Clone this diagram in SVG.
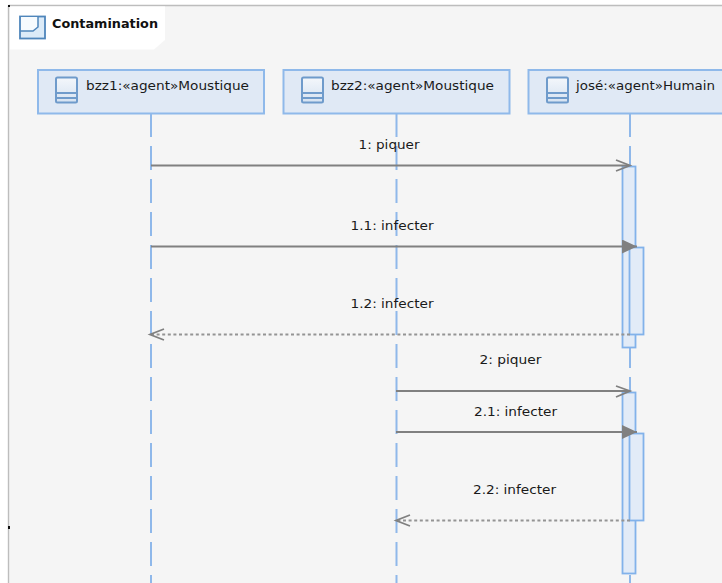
<svg xmlns="http://www.w3.org/2000/svg" width="722" height="583" viewBox="0 0 722 583">
<style>
.head{fill:#e0e9f5;stroke:#8fb9ea;stroke-width:2}
.bar{fill:#e2ebf7;stroke:#82b2ea;stroke-width:1.8}
.life{stroke:#8fb8ea;stroke-width:2;fill:none;stroke-dasharray:24 9}
.msg{stroke:#808080;stroke-width:2;fill:none}
.ret{stroke:#949494;stroke-width:2;fill:none;stroke-dasharray:3 2.6}
.open{stroke:#808080;stroke-width:1.8;fill:none}
.t{font-family:"DejaVu Sans",sans-serif;font-size:12px;fill:#1a1a1a}
</style>
<defs>
<linearGradient id="g" x1="0" y1="0" x2="0" y2="1"><stop offset="0" stop-color="#f4f7fb"/><stop offset="1" stop-color="#d5e2f1"/></linearGradient>
<g id="ic"><rect x="0" y="0" width="21" height="25" rx="1.5" fill="url(#g)" stroke="#6f9bcb" stroke-width="2"/><path d="M0 15.500H21M0 20.500H21" stroke="#6f9bcb" stroke-width="1.8" fill="none"/></g>
<marker id="filled" markerUnits="userSpaceOnUse" markerWidth="16" markerHeight="14" refX="15" refY="7" orient="auto"><path d="M0 0L15 7L0 14Z" fill="#808080"/></marker>
</defs>
<rect width="722" height="583" fill="#ffffff"/>
<rect x="9" y="6" width="713" height="577" fill="#f5f5f5"/>
<path d="M8.500 5.500H722M8.500 5.500V583" stroke="#bdbdbd" stroke-width="1.400" fill="none"/>
<rect x="8" y="5" width="2" height="2" fill="#111"/>
<rect x="8" y="526" width="2" height="3" fill="#111"/>
<g id="title">
<path d="M10 6.500H165V40L154 49.500H10Z" fill="#ffffff"/>
<rect x="20" y="16.500" width="25" height="22" fill="#dcebf8" stroke="#4f86bb" stroke-width="1.800"/>
<path d="M21 31H33L38 27V17H21Z" fill="#f7fbfe"/>
<path d="M20 31H33L38 27V16.500" fill="none" stroke="#4f86bb" stroke-width="1.500"/>
<text x="52" y="28" style="font-family:'DejaVu Sans',sans-serif;font-size:12.500px;font-weight:bold;fill:#111" textLength="106" lengthAdjust="spacingAndGlyphs">Contamination</text>
</g>
<g id="lifelines">
<line class="life" x1="151" y1="113" x2="151" y2="583"/>
<line class="life" x1="396.500" y1="113" x2="396.500" y2="583"/>
<line class="life" x1="630" y1="113" x2="630" y2="583"/>
</g>
<g id="node-bzz1">
<rect class="head" x="38" y="70" width="226" height="43.500"/>
<use href="#ic" x="56" y="77.500"/>
<text class="t" x="86" y="90" textLength="163" lengthAdjust="spacingAndGlyphs">bzz1:«agent»Moustique</text>
</g>
<g id="node-bzz2">
<rect class="head" x="283.500" y="70" width="226" height="43.500"/>
<use href="#ic" x="302" y="77.500"/>
<text class="t" x="331" y="90" textLength="163" lengthAdjust="spacingAndGlyphs">bzz2:«agent»Moustique</text>
</g>
<g id="node-jose">
<path class="head" d="M722 70H528.500V113.500H722"/>
<use href="#ic" x="547" y="77.500"/>
<text class="t" x="576" y="90" textLength="139" lengthAdjust="spacingAndGlyphs">josé:«agent»Humain</text>
</g>
<g id="activations">
<rect class="bar" x="622.500" y="166.500" width="13" height="181"/>
<rect class="bar" x="629.500" y="247.500" width="14" height="87"/>
<rect class="bar" x="622.500" y="392.500" width="13" height="181"/>
<rect class="bar" x="629.500" y="433.500" width="14" height="87"/>
</g>
<g id="connectors">
<line class="msg" x1="151" y1="165.500" x2="629" y2="165.500"/>
<path class="open" d="M616 160L630 165.500L616 171"/>
<line class="msg" x1="151" y1="246.500" x2="637" y2="246.500" marker-end="url(#filled)"/>
<line class="ret" x1="630" y1="334.500" x2="152" y2="334.500"/>
<path class="open" d="M164 329L150 334.500L164 340"/>
<line class="msg" x1="396" y1="391" x2="629" y2="391"/>
<path class="open" d="M616 386L630 391L616 397"/>
<line class="msg" x1="396" y1="432" x2="637" y2="432" marker-end="url(#filled)"/>
<line class="ret" x1="630" y1="520.500" x2="397" y2="520.500"/>
<path class="open" d="M410 515L396 520.500L410 526"/>
</g>
<g id="labels">
<text class="t" x="389" y="149" text-anchor="middle" textLength="61" lengthAdjust="spacingAndGlyphs">1: piquer</text>
<text class="t" x="392" y="230" text-anchor="middle" textLength="83" lengthAdjust="spacingAndGlyphs">1.1: infecter</text>
<text class="t" x="392" y="308" text-anchor="middle" textLength="83" lengthAdjust="spacingAndGlyphs">1.2: infecter</text>
<text class="t" x="510.500" y="364" text-anchor="middle" textLength="62" lengthAdjust="spacingAndGlyphs">2: piquer</text>
<text class="t" x="515.500" y="416" text-anchor="middle" textLength="83" lengthAdjust="spacingAndGlyphs">2.1: infecter</text>
<text class="t" x="514.500" y="494" text-anchor="middle" textLength="83" lengthAdjust="spacingAndGlyphs">2.2: infecter</text>
</g>
</svg>
